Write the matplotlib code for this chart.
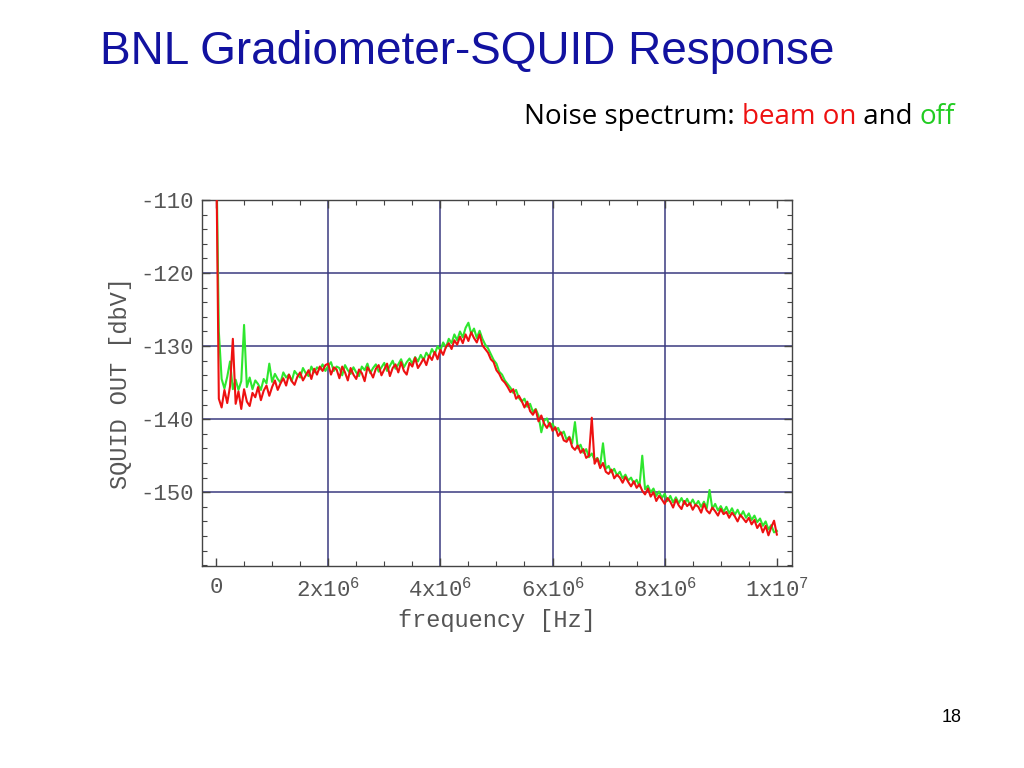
import numpy as np
import matplotlib
matplotlib.use("Agg")
import matplotlib.pyplot as plt
from matplotlib.ticker import MultipleLocator, FixedLocator, FixedFormatter

plt.rcParams['mathtext.fontset'] = 'custom'
plt.rcParams['mathtext.rm'] = 'Liberation Mono'
plt.rcParams['mathtext.it'] = 'Liberation Mono'
plt.rcParams['axes.unicode_minus'] = False

# ---- data (dbV), sampled every 0.05 MHz from 0 to 10 MHz ----
beam_on = [
    -100, -137.2, -138.4, -136.0, -137.8, -135.5, -129.0, -137.9, -136.2, -138.6,
    -135.9, -137.6, -138.2, -136.4, -137.0, -135.6, -137.4, -136.1, -135.4, -136.8,
    -135.6, -134.7, -136.0, -135.1, -134.4, -135.4, -133.9, -134.8, -135.3, -134.2,
    -133.6, -134.7, -134.0, -133.3, -134.5, -133.1, -133.9, -132.8, -133.4, -132.6,
    -132.4, -133.9, -132.9, -133.2, -134.4, -132.8, -133.6, -134.7, -133.0, -133.9,
    -134.5, -133.2, -133.7, -134.8, -132.9, -133.5, -134.3, -133.1, -132.6, -134.0,
    -133.2, -132.4, -134.1, -133.0, -132.5, -133.6, -132.2, -133.4, -133.9, -132.3,
    -132.8, -131.6, -133.0, -132.4, -131.7, -132.6, -131.3, -131.9, -130.8, -131.8,
    -130.5, -131.2, -130.1, -129.6, -130.4, -129.2, -129.8, -128.7, -129.6, -128.4,
    -129.3, -128.1, -128.9, -129.5, -128.4, -129.9, -130.4, -130.9, -131.8, -132.2,
    -133.3, -133.8, -134.6, -135.0, -135.6, -136.3, -135.9, -137.2, -136.8, -137.5,
    -138.4, -137.6, -138.9, -139.4, -138.7, -140.3, -139.5, -140.6, -141.2, -140.5,
    -141.6, -141.1, -142.3, -141.8, -142.9, -143.1, -142.5, -143.8, -144.2, -143.6,
    -144.6, -144.1, -145.3, -145.0, -139.8, -146.1, -145.4, -146.7, -146.0, -147.2,
    -147.5, -146.9, -148.1, -147.6, -148.0, -148.7, -147.9, -148.6, -149.2, -148.5,
    -149.4, -148.9, -149.8, -150.3, -149.5, -150.6, -150.0, -151.2, -150.5, -151.0,
    -151.6, -150.8, -151.3, -152.1, -151.0, -151.8, -152.3, -151.2, -151.9, -151.5,
    -152.4, -151.7, -152.0, -152.8, -151.6, -152.5, -152.9, -152.1, -152.6, -153.2,
    -152.3, -153.0, -152.7, -153.5, -152.8, -153.3, -154.0, -153.1, -153.6, -154.1,
    -153.5, -154.4, -153.8, -154.9, -154.3, -155.5, -154.6, -155.9, -154.8, -153.9,
    -155.8,
]

beam_off = [
    -100, -128.0, -134.5, -135.8, -134.2, -132.1, -135.9, -134.6, -136.0, -134.8,
    -127.1, -135.6, -134.3, -135.9, -134.7, -135.2, -136.0, -134.5, -135.1, -132.4,
    -134.9, -133.8, -134.5, -135.0, -133.6, -134.3, -133.9, -134.8, -133.4, -133.9,
    -134.3, -133.0, -133.7, -134.1, -132.8, -133.6, -132.9, -133.2, -132.5, -133.4,
    -132.7, -132.2, -133.4, -132.8, -133.0, -134.0, -132.6, -133.3, -133.8, -132.9,
    -133.6, -134.1, -132.8, -133.3, -132.4, -133.7, -133.0, -132.5, -133.5, -132.9,
    -132.3, -133.4, -132.7, -132.0, -133.1, -132.5, -131.8, -132.9, -132.2, -131.7,
    -132.4, -131.5, -132.1, -131.2, -131.9, -130.9, -131.5, -130.4, -131.1, -130.0,
    -130.6, -129.5, -130.2, -129.0, -129.6, -128.4, -129.2, -128.0, -128.8, -127.5,
    -126.8, -128.3, -127.6, -128.9, -127.9, -129.0, -129.8, -130.3, -131.1, -131.9,
    -132.4, -133.5, -133.9, -134.7, -135.2, -135.7, -136.4, -136.0, -137.1, -137.6,
    -137.2, -138.3, -137.9, -139.0, -138.6, -139.5, -141.8, -140.2, -139.9, -141.0,
    -140.6, -141.5, -141.2, -142.1, -141.7, -142.8, -142.4, -143.3, -140.4, -144.0,
    -143.5, -144.6, -144.1, -145.2, -144.7, -145.6, -145.3, -146.3, -143.3, -146.8,
    -146.4, -147.3, -146.8, -147.7, -147.2, -148.1, -147.6, -148.4, -148.0, -148.8,
    -148.3, -149.2, -145.0, -149.6, -149.1, -150.0, -149.5, -150.5, -149.9, -150.8,
    -150.2, -151.2, -150.5, -151.4, -150.7, -151.5, -150.8, -151.6, -150.9, -151.7,
    -151.0, -151.8, -151.2, -152.0, -151.3, -152.2, -149.7, -152.3, -151.6, -152.5,
    -151.9, -152.7, -152.0, -152.9, -152.2, -153.1, -152.4, -153.3, -152.6, -153.5,
    -152.9, -153.8, -153.2, -154.1, -153.6, -154.6, -154.0, -155.1, -154.5, -155.5,
    -155.3,
]

x_ticks = [0, 2e6, 4e6, 6e6, 8e6, 1e7]
x_tick_labels = ['0', r'$2\mathrm{x}10^{6}$', r'$4\mathrm{x}10^{6}$',
                 r'$6\mathrm{x}10^{6}$', r'$8\mathrm{x}10^{6}$', r'$1\mathrm{x}10^{7}$']
y_ticks = [-110, -120, -130, -140, -150]

freq_on = np.linspace(0, 1e7, len(beam_on))
freq_off = np.linspace(0, 1e7, len(beam_off))

fig = plt.figure(figsize=(10.24, 7.68), dpi=100)
ax = fig.add_axes([202/1024, 1-566/768, 590/1024, 366/768])

grid_c = '#3b3b80'
for xv in x_ticks[1:-1]:
    ax.axvline(xv, color=grid_c, lw=1.1, zorder=1)
for yv in y_ticks[1:]:
    ax.axhline(yv, color=grid_c, lw=1.1, zorder=1)

ax.plot(freq_off, beam_off, color='#2ee62e', lw=1.5, zorder=2)
ax.plot(freq_on, beam_on, color='#ee1111', lw=1.5, zorder=3)

ax.set_xlim(-0.25e6, 10.27e6)
ax.set_ylim(-160.1, -110)

mono = 'Liberation Mono'
ax.xaxis.set_major_locator(FixedLocator(x_ticks))
ax.xaxis.set_major_formatter(FixedFormatter(x_tick_labels))
ax.xaxis.set_minor_locator(MultipleLocator(0.5e6))
ax.yaxis.set_major_locator(FixedLocator(y_ticks))
ax.yaxis.set_minor_locator(MultipleLocator(2))
ax.tick_params(which='both', direction='in', top=True, right=True, colors='#444444',
               labelcolor='#555555')
ax.tick_params(which='major', length=6, width=1)
ax.tick_params(which='minor', length=3.5, width=0.8)
ax.tick_params(axis='x', pad=8)
ax.tick_params(axis='y', pad=6)
for lab in ax.get_xticklabels() + ax.get_yticklabels():
    lab.set_fontfamily(mono)
    lab.set_fontsize(16)
for s in ax.spines.values():
    s.set_color('#444444')
    s.set_linewidth(1)

ax.set_xlabel('frequency [Hz]', fontfamily=mono, fontsize=17, color='#555555', labelpad=6)
ax.set_ylabel('SQUID OUT [dbV]', fontfamily=mono, fontsize=17, color='#555555', labelpad=6)

# titles
fig.text(100/1024, 1-52/768, 'BNL Gradiometer-SQUID Response', fontfamily='Liberation Sans',
         fontsize=33, color='#1212a0', va='center', ha='left')
fig.text(962/1024, 1-718/768, '18', fontfamily='Liberation Sans', fontsize=13,
         color='black', va='center', ha='right')

# multicolour subtitle, built right-to-left
fig.canvas.draw()
renderer = fig.canvas.get_renderer()
parts = [('off', '#22cc22'), (' and ', 'black'), ('beam on', '#ee1111'),
         ('Noise spectrum: ', 'black')]
xr = 955
for txt, col in parts:
    t = fig.text(xr/1024, 1-117/768, txt, fontfamily='Open Sans', fontsize=20,
                 color=col, va='center', ha='right')
    bb = t.get_window_extent(renderer)
    xr -= bb.width

fig.savefig('out.png', dpi=100)
